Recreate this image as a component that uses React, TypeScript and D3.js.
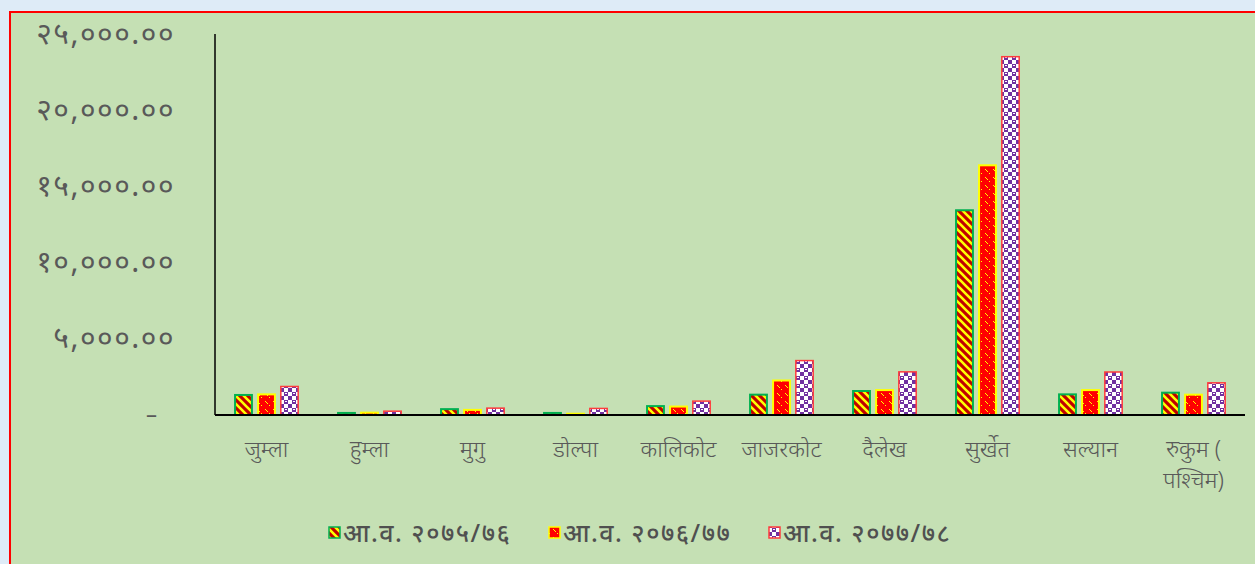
import React from "react";
import * as d3 from "d3";

const categories = ["जुम्ला", "हुम्ला", "मुगु", "डोल्पा", "कालिकोट", "जाजरकोट", "दैलेख", "सुर्खेत", "सल्यान", "रुकुम ( पश्चिम)"];
const seriesNames = ["आ.व. २०७५/७६", "आ.व. २०७६/७७", "आ.व. २०७७/७८"];
const fy7576 = [1380, 200, 450, 200, 650, 1400, 1640, 13500, 1420, 1530];
const fy7677 = [1420, 220, 400, 150, 620, 2330, 1700, 16450, 1700, 1400];
const fy7778 = [1920, 300, 500, 480, 960, 3620, 2880, 23560, 2870, 2160];
const yTicks = [0, 5000, 10000, 15000, 20000, 25000];

const seriesValues = [fy7576, fy7677, fy7778];
const patternIds = ["pat1", "pat2", "pat3"];
const strokes = ["#00B050", "#FFFF00", "#FF3B3B"];
const strokeW = [2, 2, 1.5];

const devDigits = "०१२३४५६७८९";
const toDev = (s: string) => s.replace(/[0-9]/g, (d) => devDigits[+d]);
const fmt = (v: number) => (v === 0 ? "–" : toDev(d3.format(",.2f")(v)));

const FONT = "'Noto Sans', 'Noto Sans Devanagari', sans-serif";

export default function App() {
  const W = 1255, H = 564;
  const left = 215, right = 1245, y0 = 415, yTop = 34;
  const x0 = d3.scaleBand<string>().domain(categories).range([left, right]).paddingInner(0.37).paddingOuter(0.185);
  const x1 = d3.scaleBand<number>().domain([0, 1, 2]).range([0, x0.bandwidth()]).paddingInner(0.18);
  const y = d3.scaleLinear().domain([0, 25000]).range([y0, yTop]);

  const legendX = [329, 549, 769];

  return (
    <svg width={W} height={H} style={{ position: "absolute", left: 0, top: 0 }} fontFamily={FONT}>
      <defs>
        <pattern id="pat1" patternUnits="userSpaceOnUse" width={8} height={8}>
          <rect width={8} height={8} fill="#C00000" />
          <path d="M-2,-2 L10,10 M-2,6 L2,10 M6,-2 L10,2" stroke="#FFFF00" strokeWidth={2.6} />
        </pattern>
        <pattern id="pat2" patternUnits="userSpaceOnUse" width={8} height={8}>
          <rect width={8} height={8} fill="#FF0000" />
          <rect x={1} y={1} width={1} height={1} fill="#FFFF00" />
          <rect x={2} y={2} width={1} height={1} fill="#FFFF00" />
          <rect x={3} y={3} width={1} height={1} fill="#FFFF00" />
          <rect x={5} y={5} width={1} height={1} fill="#FFFF00" />
        </pattern>
        <pattern id="pat3" patternUnits="userSpaceOnUse" width={8} height={8}>
          <rect width={8} height={8} fill="#7030A0" />
          <rect x={0} y={0} width={4} height={4} fill="#FFFFFF" />
          <rect x={4} y={4} width={4} height={4} fill="#FFFFFF" />
          <rect x={5} y={1} width={2} height={1} fill="#FFFFFF" />
        </pattern>
      </defs>
      <rect x={0} y={0} width={W} height={H} fill="#DEEBF7" />
      <rect x={10} y={12} width={W} height={H} fill="#C5E0B4" stroke="#FF0000" strokeWidth={2} />

      {yTicks.map((t) => (
        <text key={t} x={t === 0 ? 157 : 175} y={y(t)} dy="0.32em" textAnchor="end" fontSize={t === 0 ? 22 : 30} letterSpacing={t === 0 ? 0 : 1.5} fill="#595959">
          {fmt(t)}
        </text>
      ))}

      {categories.map((c, ci) => (
        <g key={c}>
          {seriesValues.map((vals, si) => {
            const bx = (x0(c) as number) + (x1(si) as number);
            const bw = x1.bandwidth();
            return (
              <rect
                key={si}
                x={bx + strokeW[si] / 2}
                y={y(vals[ci]) + strokeW[si] / 2}
                width={bw - strokeW[si]}
                height={Math.max(0, y0 - y(vals[ci]) - strokeW[si] / 2)}
                fill={`url(#${patternIds[si]})`}
                stroke={strokes[si]}
                strokeWidth={strokeW[si]}
              />
            );
          })}
        </g>
      ))}

      <line x1={left} x2={left} y1={yTop} y2={y0} stroke="#000" strokeWidth={1.5} />
      <line x1={left} x2={right} y1={y0} y2={y0} stroke="#000" strokeWidth={2} />

      {categories.map((c) => {
        const cx = (x0(c) as number) + x0.bandwidth() / 2;
        if (c.startsWith("रुकुम")) {
          return (
            <text key={c} x={cx} textAnchor="middle" fontSize={23} fontWeight={300} fill="#595959">
              <tspan x={cx} y={457}>रुकुम (</tspan>
              <tspan x={cx} y={488}>पश्चिम)</tspan>
            </text>
          );
        }
        return (
          <text key={c} x={cx} y={457} textAnchor="middle" fontSize={23} fontWeight={300} fill="#595959">
            {c}
          </text>
        );
      })}

      {seriesNames.map((n, si) => (
        <g key={n}>
          <rect x={legendX[si]} y={527} width={11} height={11} fill={`url(#${patternIds[si]})`} stroke={strokes[si]} strokeWidth={1.5} />
          <text x={legendX[si] + 14} y={533} dy="0.35em" fontSize={25} fontWeight={500} letterSpacing={1.5} fill="#505050">
            {n}
          </text>
        </g>
      ))}
    </svg>
  );
}
